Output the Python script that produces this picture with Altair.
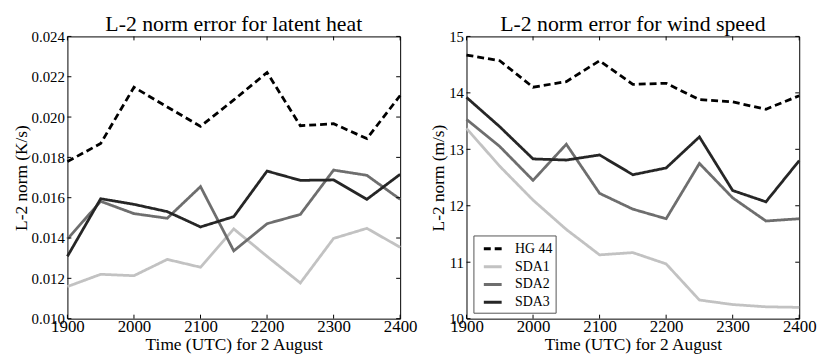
import altair as alt
import pandas as pd

times = [1900, 1950, 2000, 2050, 2100, 2150, 2200, 2250, 2300, 2350, 2400]
series_names = ["HG 44", "SDA1", "SDA2", "SDA3"]

# Latent heat L-2 norm error (K/s)
lh_hg44 = [0.01779, 0.01869, 0.02148, 0.02050, 0.01954, 0.02085, 0.02221, 0.01957, 0.01967, 0.01893, 0.02107]
lh_sda1 = [0.01159, 0.01220, 0.01213, 0.01294, 0.01255, 0.01445, 0.01309, 0.01177, 0.01398, 0.01448, 0.01354]
lh_sda2 = [0.01395, 0.01582, 0.01521, 0.01498, 0.01655, 0.01336, 0.01471, 0.01517, 0.01737, 0.01711, 0.01592]
lh_sda3 = [0.01309, 0.01595, 0.01567, 0.01531, 0.01455, 0.01506, 0.01732, 0.01686, 0.01688, 0.01592, 0.01716]

# Wind speed L-2 norm error (m/s)
ws_hg44 = [14.67, 14.57, 14.10, 14.20, 14.57, 14.15, 14.17, 13.88, 13.84, 13.71, 13.95]
ws_sda1 = [13.37, 12.70, 12.10, 11.58, 11.13, 11.17, 10.97, 10.33, 10.25, 10.21, 10.20]
ws_sda2 = [13.53, 13.05, 12.45, 13.09, 12.22, 11.94, 11.77, 12.75, 12.14, 11.73, 11.77]
ws_sda3 = [13.92, 13.40, 12.83, 12.81, 12.90, 12.55, 12.67, 13.22, 12.27, 12.07, 12.80]

x_ticks = [1900, 2000, 2100, 2200, 2300, 2400]
lh_ticks = [0.010, 0.012, 0.014, 0.016, 0.018, 0.020, 0.022, 0.024]
ws_ticks = [10, 11, 12, 13, 14, 15]

colors = ["#000000", "#c2c2c2", "#6e6e6e", "#262626"]
dashes = [[7, 4], [1, 0], [1, 0], [1, 0]]

FONT = "Liberation Serif"
W, H = 336, 285
XTITLE = "Time (UTC) for 2 August"


def make_df(vals):
    rows = []
    for name, arr in zip(series_names, vals):
        for t, v in zip(times, arr):
            rows.append({"time": t, "value": v, "series": name})
    return pd.DataFrame(rows)


def panel(vals, title, ytitle, ydomain, yticks, yfmt, show_legend):
    df = make_df(vals)
    xs = alt.Scale(domain=[1900, 2400], nice=False, zero=False)
    ys = alt.Scale(domain=ydomain, nice=False, zero=False)
    xaxis = alt.Axis(values=x_ticks, format="d", ticks=False, domain=False,
                     grid=False, labelFontSize=17, labelPadding=0,
                     labelFlush=False, labelOverlap=False,
                     titleFontSize=17.5, titlePadding=1)
    yaxis = alt.Axis(values=yticks, format=yfmt, ticks=False, domain=False,
                     grid=False, labelFontSize=15, labelPadding=3,
                     labelFlush=False, labelOverlap=False,
                     titleFontSize=17.5, titlePadding=1)
    if show_legend:
        leg = alt.Legend(
            title=None, orient="none", legendX=7, legendY=201,
            fillColor="white", strokeColor="#555555", padding=3,
            symbolType="stroke", symbolSize=324, symbolStrokeWidth=3,
            symbolOffset=6, labelOffset=12, rowPadding=0,
            labelFont=FONT, labelFontSize=14, labelColor="#000",
            cornerRadius=0,
        )
    else:
        leg = None
    lines = alt.Chart(df).mark_line(strokeWidth=2.8).encode(
        x=alt.X("time:Q", scale=xs, title=XTITLE, axis=xaxis),
        y=alt.Y("value:Q", scale=ys, title=ytitle, axis=yaxis),
        color=alt.Color("series:N", scale=alt.Scale(domain=series_names, range=colors), legend=leg),
        strokeDash=alt.StrokeDash("series:N", scale=alt.Scale(domain=series_names, range=dashes), legend=leg),
    )
    xt = pd.DataFrame({"v": x_ticks})
    yt = pd.DataFrame({"v": yticks})
    tb = alt.Chart(xt).mark_rule(color="black", strokeWidth=1).encode(
        x=alt.X("v:Q", scale=xs, title=XTITLE, axis=xaxis), y=alt.value(H), y2=alt.value(H - 4))
    tt = alt.Chart(xt).mark_rule(color="black", strokeWidth=1).encode(
        x=alt.X("v:Q", scale=xs, title=XTITLE, axis=xaxis), y=alt.value(0), y2=alt.value(4))
    tl = alt.Chart(yt).mark_rule(color="black", strokeWidth=1).encode(
        y=alt.Y("v:Q", scale=ys, title=ytitle, axis=yaxis), x=alt.value(0), x2=alt.value(4))
    tr = alt.Chart(yt).mark_rule(color="black", strokeWidth=1).encode(
        y=alt.Y("v:Q", scale=ys, title=ytitle, axis=yaxis), x=alt.value(W), x2=alt.value(W - 4))
    return alt.layer(lines, tb, tt, tl, tr).properties(
        width=W, height=H,
        title=alt.TitleParams(title, font=FONT, fontSize=22, fontWeight="normal",
                              color="#000", offset=-7),
    )


left = panel([lh_hg44, lh_sda1, lh_sda2, lh_sda3], "L-2 norm error for latent heat",
             "L-2 norm (K/s)", [0.010, 0.024], lh_ticks, ".3f", False)
right = panel([ws_hg44, ws_sda1, ws_sda2, ws_sda3], "L-2 norm error for wind speed",
              "L-2 norm (m/s)", [10, 15], ws_ticks, "d", True)

chart = alt.hconcat(left, right, spacing=67, bounds="flush").resolve_scale(
    color="independent", strokeDash="independent"
).properties(
    padding={"left": 3, "top": 3, "right": 5, "bottom": 0},
    background="white",
).configure_view(
    stroke="#000", strokeWidth=1
).configure_axis(
    labelFont=FONT, titleFont=FONT, labelColor="#000", titleColor="#000",
    titleFontWeight="normal"
)

chart.save("out.html", embed_options={"renderer": "svg", "actions": False})
